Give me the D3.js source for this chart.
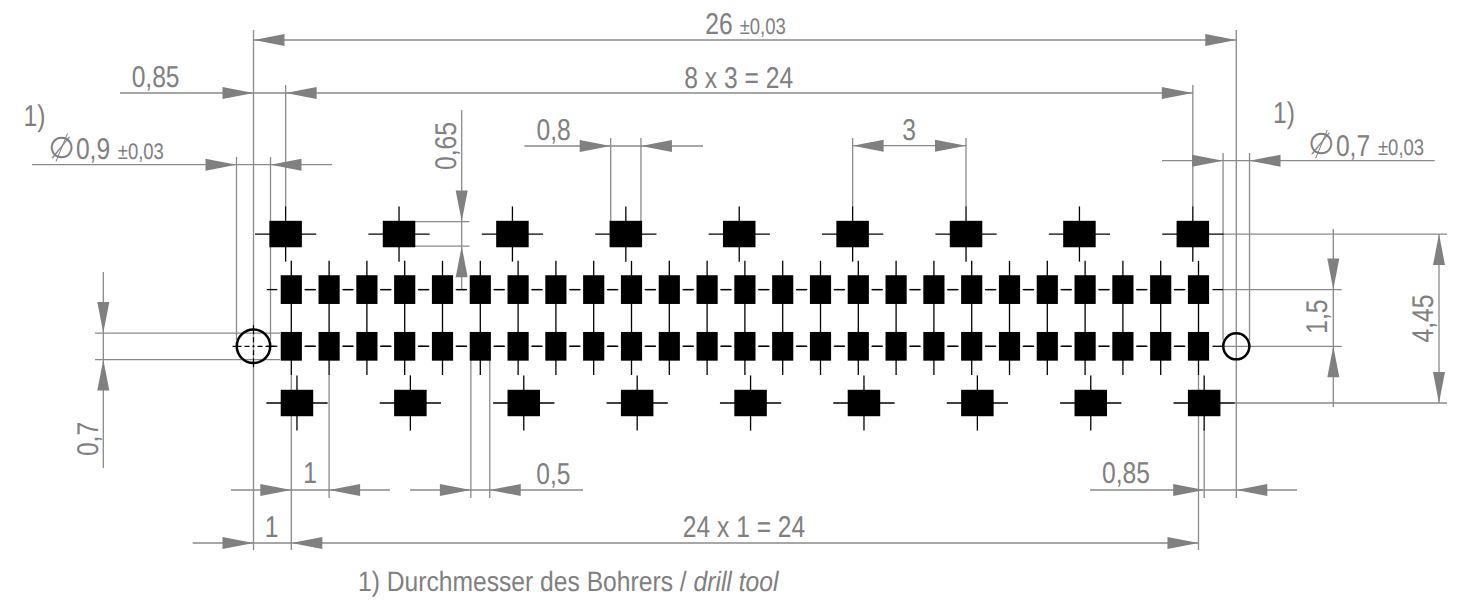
<!DOCTYPE html>
<html lang="de">
<head>
  <meta charset="UTF-8">
  <title>Footprint</title>
  <style>
    html, body { margin: 0; padding: 0; background: #fff; }
    svg { display: block; }
    text { font-family: "Liberation Sans", sans-serif; fill: #808080; text-rendering: geometricPrecision; }
    .dim { stroke: #8a8a8a; stroke-width: 1.3; fill: none; }
    .cross { stroke: #000; stroke-width: 1.3; fill: none; }
  </style>
</head>
<body>
  <div id="chart"></div>
  <script src="https://cdn.jsdelivr.net/npm/d3@7"></script>
  <script>
    // pad centres, mm from the left hole
    var smallPadX = [1, 2, 3, 4, 5, 6, 7, 8, 9, 10, 11, 12, 13, 14, 15, 16, 17, 18, 19, 20, 21, 22, 23, 24, 25];
    var smallPadRows = [1.5, 0];
    var topPadX = [0.85, 3.85, 6.85, 9.85, 12.85, 15.85, 18.85, 21.85, 24.85];
    var bottomPadX = [1.15, 4.15, 7.15, 10.15, 13.15, 16.15, 19.15, 22.15, 25.15];
    var topRow = 2.97;
    var bottomRow = -1.5;
    var holeX = [0, 26];
    var holeDia = [0.885, 0.69];

    var width = 1463, height = 607;
    var x = d3.scaleLinear().domain([0, 26]).range([253.5, 1236.3]);
    var y = d3.scaleLinear().domain([0, 1.5]).range([346.3, 289.6]);
    var mm = 37.8;
    var arrowLen = 31, arrowHalf = 6;
    var narrow = 0.82; // no narrow font here, squeeze the sans

    var svg = d3.select('#chart').append('svg').attr('width', width).attr('height', height);
    var gGrey = svg.append('g').attr('class', 'dim');
    var gPads = svg.append('g');
    var gCross = svg.append('g').attr('class', 'cross');
    var gArrows = svg.append('g').attr('fill', '#808080');
    var gText = svg.append('g');

    function seg(g, x1, y1, x2, y2) {
      g.append('line').attr('x1', x1).attr('y1', y1).attr('x2', x2).attr('y2', y2);
    }

    // dir: 1 = tip points right/down, -1 = left/up
    function hArrow(tx, ty, dir) {
      gArrows.append('path').attr('d', d3.line()([[tx, ty], [tx - dir * arrowLen, ty - arrowHalf], [tx - dir * arrowLen, ty + arrowHalf]]));
    }
    function vArrow(tx, ty, dir) {
      gArrows.append('path').attr('d', d3.line()([[tx, ty], [tx - arrowHalf, ty - dir * arrowLen], [tx + arrowHalf, ty - dir * arrowLen]]));
    }

    // horizontal dimensions: [line y, left end, right end, [tip mm, dir]...]
    var hDims = [
      [40, 253.5, 1236.3, [0, -1], [26, 1]],
      [93, 120, 285.6, [0, 1]],
      [93, 285.6, 1192.8, [0.85, -1], [24.85, 1]],
      [164.7, 32, 332, [-0.45, 1], [0.45, -1]],
      [160.7, 1162, 1434.7, [25.65, 1], [26.35, -1]],
      [146, 524.3, 703, [9.45, 1], [10.25, -1]],
      [145.7, 852.6, 966, [15.85, -1], [18.85, 1]],
      [490, 231, 390, [1, 1], [2, -1]],
      [490, 410, 583, [5.75, 1], [6.25, -1]],
      [490, 1090, 1297, [25.15, 1], [26, -1]],
      [543, 192.7, 1198.5, [0, 1], [1, -1], [25, 1]]
    ];
    hDims.forEach(function (d) {
      seg(gGrey, d[1], d[0], d[2], d[0]);
      d.slice(3).forEach(function (t) { hArrow(x(t[0]), d[0], t[1]); });
    });

    // vertical dimensions: [line x, top end, bottom end, [tip mm, dir]...]
    var vDims = [
      [103.3, 272, 468, [0.35, 1], [-0.35, -1]],
      [461.7, 110, 290, [3.3, 1], [2.65, -1]],
      [1333.3, 229, 407, [1.5, 1], [0, -1]],
      [1439, y(topRow), y(bottomRow), [topRow, -1], [bottomRow, 1]]
    ];
    vDims.forEach(function (d) {
      seg(gGrey, d[0], d[1], d[0], d[2]);
      d.slice(3).forEach(function (t) { vArrow(d[0], y(t[0]), t[1]); });
    });

    // extension lines running down from a dimension: [mm, top, bottom]
    var vExt = [
      [0, 30, 550], [26, 30, 498],
      [0.85, 85, 207], [24.85, 85, 207],
      [-0.45, 157, 340], [0.45, 157, 340],
      [25.65, 153, 340], [26.35, 153, 340],
      [9.45, 138, 221], [10.25, 138, 221],
      [15.85, 138, 207], [18.85, 138, 207],
      [1, 375, 550], [2, 375, 498],
      [5.75, 360, 498], [6.25, 360, 498],
      [25, 375, 550], [25.15, 429, 498]
    ];
    vExt.forEach(function (d) { seg(gGrey, x(d[0]), d[1], x(d[0]), d[2]); });

    // extension lines running across: [mm, left, right]
    var hExt = [
      [0.35, 95, 280], [-0.35, 95, 280],
      [3.3, 415, 469.3], [2.65, 415, 469.3],
      [topRow, 1222, 1447], [1.5, 1222, 1341.7], [0, 1223, 1341.7], [bottomRow, 1235, 1447]
    ];
    hExt.forEach(function (d) { seg(gGrey, d[1], y(d[0]), d[2], y(d[0])); });

    // pads
    function pads(xs, row, w, h) {
      gPads.selectAll(null).data(xs).enter().append('rect')
        .attr('x', function (d) { return x(d) - w * mm / 2; })
        .attr('y', y(row) - h * mm / 2)
        .attr('width', w * mm).attr('height', h * mm).attr('fill', '#000');
    }
    pads(topPadX, topRow, 0.86, 0.7);
    pads(bottomPadX, bottomRow, 0.86, 0.7);
    smallPadRows.forEach(function (r) { pads(smallPadX, r, 0.56, 0.76); });

    // centre crosses
    function bigCross(xs, row) {
      xs.forEach(function (c) {
        seg(gCross, x(c - 0.81), y(row), x(c + 0.81), y(row));
        seg(gCross, x(c), y(row + 0.73), x(c), y(row - 0.73));
      });
    }
    bigCross(topPadX, topRow);
    bigCross(bottomPadX, bottomRow);
    smallPadX.forEach(function (c) {
      seg(gCross, x(c), y(1.5 + 0.76), x(c), y(-0.76));
      smallPadRows.forEach(function (r) {
        seg(gCross, x(c - 0.65), y(r), x(c - 0.37), y(r));
        seg(gCross, x(c + 0.37), y(r), x(c + 0.65), y(r));
      });
    });

    // drill holes
    holeX.forEach(function (c, i) {
      svg.append('circle').attr('cx', x(c)).attr('cy', y(0)).attr('r', holeDia[i] / 2 * mm)
        .attr('fill', 'none').attr('stroke', '#000').attr('stroke-width', 2.5);
    });
    var hx = x(0), hy = y(0);
    svg.append('line').attr('x1', hx - 21).attr('y1', hy).attr('x2', hx + 21).attr('y2', hy)
      .attr('stroke', '#000').attr('stroke-width', 1.2).attr('stroke-dasharray', '9 3 5 3 2 3 5 3 9');
    svg.append('line').attr('x1', hx).attr('y1', hy - 21).attr('x2', hx).attr('y2', hy + 21)
      .attr('stroke', '#000').attr('stroke-width', 1.2).attr('stroke-dasharray', '9 3 5 3 2 3 5 3 9');

    // labels: [text, x, baseline, size, rotated]
    var labels = [
      ['26', 719, 34, 30, 0],
      ['±0,03', 762.7, 34.3, 22.5, 0],
      ['0,85', 155.6, 87, 30, 0],
      ['8 x 3 = 24', 738.7, 87.5, 30, 0],
      ['1)', 34.5, 125.7, 30, 0],
      ['0,9', 93, 159, 30, 0],
      ['±0,03', 140.8, 159, 22.5, 0],
      ['0,8', 553.7, 140, 30, 0],
      ['3', 909, 140, 30, 0],
      ['1)', 1284, 123.3, 30, 0],
      ['0,7', 1353, 155.5, 30, 0],
      ['±0,03', 1401, 155.3, 22.5, 0],
      ['1', 310, 483.3, 30, 0],
      ['0,5', 553.3, 484, 30, 0],
      ['0,85', 1126, 483.3, 30, 0],
      ['1', 271.7, 536.7, 30, 0],
      ['24 x 1 = 24', 744, 536.7, 30, 0],
      ['0,65', 455.7, 146, 30, 1],
      ['0,7', 97.7, 439, 30, 1],
      ['1,5', 1327, 316.7, 30, 1],
      ['4,45', 1433, 318.5, 30, 1]
    ];
    labels.forEach(function (d) {
      gText.append('text').text(d[0]).attr('font-size', d[3]).attr('text-anchor', 'middle')
        .attr('transform', 'translate(' + d[1] + ',' + d[2] + ')' + (d[4] ? ' rotate(-90)' : '') + ' scale(' + narrow + ',1)');
    });

    // diameter signs, the slash runs longer than the font's own
    [[61.5, 147.5], [1321.3, 144]].forEach(function (p) {
      gText.append('text').text('∅').attr('x', p[0]).attr('y', p[1] + 10).attr('text-anchor', 'middle')
        .attr('font-size', 30).style('font-family', '"DejaVu Sans"').style('font-weight', 200);
      svg.append('line').attr('x1', p[0] + 6).attr('y1', p[1] - 14).attr('x2', p[0] - 5.5).attr('y2', p[1] + 14)
        .attr('stroke', '#808080').attr('stroke-width', 1);
    });

    var note = gText.append('text').attr('font-size', 28)
      .attr('transform', 'translate(358,590.7) scale(0.88,1)');
    note.append('tspan').text('1) Durchmesser des Bohrers / ');
    note.append('tspan').text('drill tool').attr('font-style', 'italic');
  </script>
</body>
</html>
